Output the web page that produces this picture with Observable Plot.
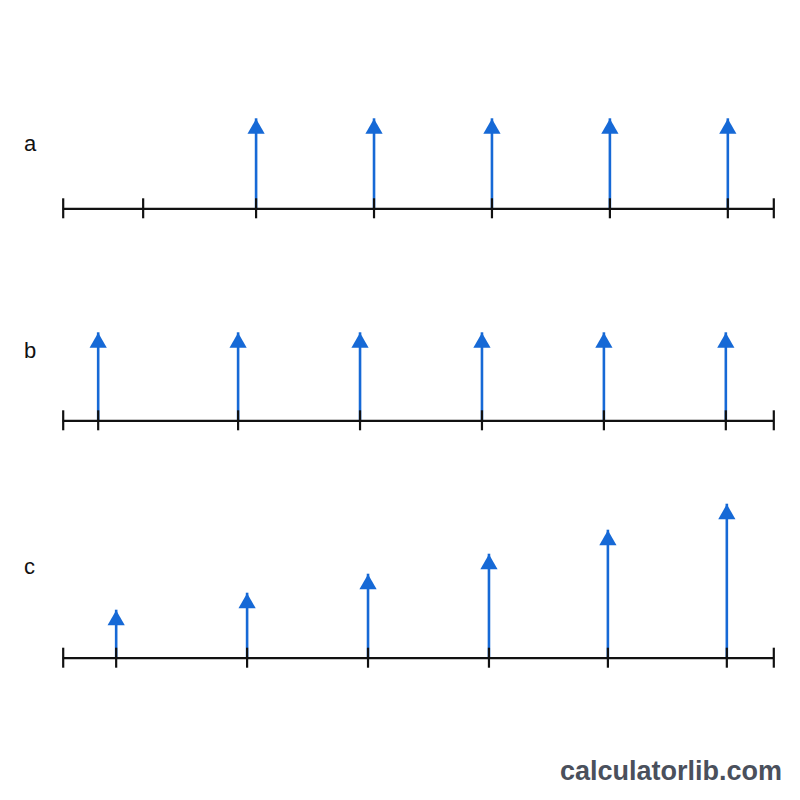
<!DOCTYPE html>
<html>
<head>
<meta charset="utf-8">
<script src="https://cdn.jsdelivr.net/npm/d3@7"></script>
<script src="https://cdn.jsdelivr.net/npm/@observablehq/plot@0.6"></script>
<style>
  html, body { margin: 0; padding: 0; background: #ffffff; }
  #wrap { position: relative; width: 800px; height: 800px; overflow: hidden; background: #fff; }
  .panel { position: absolute; left: 0; }
  .lbl { position: absolute; font-family: "Liberation Sans", Arial, Helvetica, sans-serif; font-size: 22px; color: #111; line-height: 1; }
  #mark { position: absolute; right: 18px; bottom: 13px; font-family: "Liberation Sans", Arial, Helvetica, sans-serif; font-weight: bold; font-size: 27px; color: #4a505c; }
</style>
</head>
<body>
<div id="wrap"></div>
<script>
// Data (positions along each number line, arrow heights)
const lineLength = 711;
const panelNames = ["a", "b", "c"];
const aPositions = [193, 311, 429, 547, 665];
const aHeights = [90, 90, 90, 90, 90];
const aExtraTicks = [80];
const bPositions = [35, 175, 297, 419, 541, 663];
const bHeights = [88, 88, 88, 88, 88, 88];
const bExtraTicks = [];
const cPositions = [53, 184, 305, 426, 545, 664];
const cHeights = [48, 65, 84, 104, 128, 154];
const cExtraTicks = [];

const blue = "#1669d6";
const wrap = document.getElementById("wrap");

function panel(name, positions, heights, extraTicks, top, svgHeight, marginBottom, labelTop) {
  const arrows = positions.map((x, i) => ({x, h: heights[i]}));
  const ticks = [0, ...extraTicks, ...positions, lineLength];
  const yMax = svgHeight - marginBottom;
  const svg = Plot.plot({
    width: 800,
    height: svgHeight,
    marginLeft: 62.7,
    marginRight: 26.7,
    marginTop: 0,
    marginBottom: marginBottom,
    x: {domain: [0, lineLength], axis: null},
    y: {domain: [0, yMax], axis: null},
    marks: [
      Plot.ruleX(arrows, {x: "x", y1: 0, y2: "h", stroke: blue, strokeWidth: 2.6}),
      Plot.dot(arrows, {x: "x", y: "h", symbol: "triangle", r: 6.4, fill: blue, stroke: "none", dy: 10}),
      Plot.ruleY([0], {x1: 0, x2: lineLength, stroke: "#111", strokeWidth: 2.2}),
      Plot.ruleX(ticks, {x: d => d, y1: -10, y2: 10, stroke: "#111", strokeWidth: 2.2})
    ]
  });
  svg.classList.add("panel");
  svg.style.top = top + "px";
  svg.style.overflow = "visible";
  wrap.appendChild(svg);
  const lbl = document.createElement("div");
  lbl.className = "lbl";
  lbl.textContent = name;
  lbl.style.left = "24px";
  lbl.style.top = labelTop + "px";
  wrap.appendChild(lbl);
}

panel(panelNames[0], aPositions, aHeights, aExtraTicks, 100, 130, 21.7, 133);
panel(panelNames[1], bPositions, bHeights, bExtraTicks, 310, 130, 19.7, 340);
panel(panelNames[2], cPositions, cHeights, cExtraTicks, 480, 200, 22.3, 556);

const mark = document.createElement("div");
mark.id = "mark";
mark.textContent = "calculatorlib.com";
wrap.appendChild(mark);
</script>
</body>
</html>
